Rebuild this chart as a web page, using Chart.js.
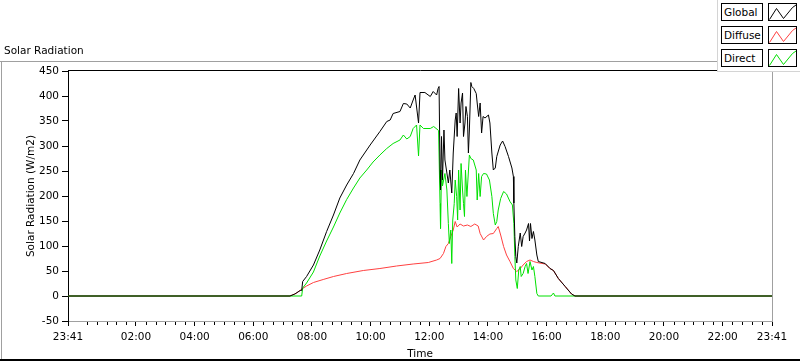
<!DOCTYPE html>
<html><head><meta charset="utf-8">
<script src="https://cdn.jsdelivr.net/npm/chart.js@4.4.1/dist/chart.umd.min.js"></script>
<style>
html,body{margin:0;padding:0;background:#fff;}
body{width:800px;height:361px;position:relative;overflow:hidden;font-family:"DejaVu Sans",sans-serif;color:#000;}
#c{position:absolute;left:0;top:0;}
#title{position:absolute;left:4px;top:43px;font-size:10.5px;line-height:14px;}
#legend{position:absolute;left:717px;top:0;width:83px;height:72px;background:#fff;border-left:1px solid #d4d4d4;border-bottom:1px solid #d4d4d4;box-sizing:border-box;}
.lab{position:absolute;left:3px;width:42px;height:18px;border:1px solid #000;box-sizing:border-box;font-size:10.5px;line-height:16px;padding-left:2px;white-space:nowrap;}
.ico{position:absolute;left:50px;width:29px;height:18px;border:1px solid #000;box-sizing:border-box;}
.ico svg{position:absolute;left:0;top:0;}
</style></head>
<body>
<canvas id="c" width="800" height="361"></canvas>
<div id="title">Solar Radiation</div>
<div id="legend"></div>
<script>
// ---- data (time in minutes after midnight; 23:41 of previous day = -19) ----
const seriesNames = ['Global', 'Diffuse', 'Direct'];
const seriesColors = ['#000000', '#ff4040', '#00e000'];

const xTickValues = [-19, 120, 240, 360, 480, 600, 720, 840, 960, 1080, 1200, 1320, 1421];
const xTickLabels = ['23:41', '02:00', '04:00', '06:00', '08:00', '10:00', '12:00', '14:00', '16:00', '18:00', '20:00', '22:00', '23:41'];

const globalTimes = [-19, 435, 445, 456, 459, 461, 469, 483, 496, 510, 524, 537, 551, 565, 578, 599, 619, 633, 640, 646, 660, 667, 674, 681, 687, 691, 698, 701, 711, 722, 728, 735, 738, 740, 742, 743, 745, 747, 750, 752, 756, 759, 762, 766, 769, 773, 775, 777, 780, 783, 785, 788, 790, 793, 795, 798, 800, 802, 805, 807, 811, 816, 818, 821, 824, 827, 830, 834, 841, 844, 848, 851, 855, 858, 865, 870, 875, 882, 889, 892, 893, 895, 897, 899, 902, 906, 909, 912, 916, 919, 923, 925, 927, 930, 933, 936, 940, 943, 957, 967, 974, 984, 998, 1011, 1018, 1421];
const globalValues = [0, 0, 4, 11, 11, 29, 39, 62, 92, 129, 162, 196, 222, 245, 272, 302, 329, 349, 352, 365, 369, 385, 384, 376, 392, 402, 346, 407, 407, 399, 409, 402, 415, 419, 252, 212, 319, 232, 332, 272, 246, 226, 252, 206, 286, 352, 366, 319, 415, 346, 386, 406, 319, 346, 379, 359, 286, 332, 427, 419, 415, 405, 386, 359, 386, 326, 359, 356, 362, 346, 286, 252, 256, 279, 302, 310, 299, 279, 256, 239, 186, 119, 79, 66, 99, 126, 99, 119, 126, 132, 145, 110, 145, 115, 129, 112, 82, 69, 65, 55, 51, 35, 19, 4, 0, 0];

const diffuseTimes = [-19, 435, 447, 461, 469, 483, 503, 524, 551, 585, 619, 653, 687, 718, 735, 742, 749, 754, 759, 764, 769, 773, 777, 783, 790, 798, 805, 813, 820, 824, 831, 837, 844, 851, 858, 861, 866, 872, 878, 885, 892, 899, 906, 912, 919, 926, 933, 940, 957, 967, 974, 984, 998, 1011, 1018, 1421];
const diffuseValues = [0, 0, 5, 15, 20, 27, 33, 39, 45, 51, 55, 60, 64, 67, 72, 75, 85, 99, 105, 119, 132, 149, 138, 144, 140, 142, 139, 144, 140, 125, 112, 119, 124, 125, 135, 139, 122, 99, 82, 69, 55, 49, 55, 62, 69, 72, 69, 67, 64, 55, 51, 35, 19, 4, 0, 0];

const directTimes = [-19, 459, 461, 469, 483, 496, 510, 524, 537, 551, 565, 578, 592, 605, 619, 633, 646, 660, 667, 674, 681, 687, 694, 698, 701, 708, 722, 729, 739, 742, 743, 745, 747, 752, 756, 759, 761, 764, 766, 768, 771, 773, 776, 778, 780, 783, 785, 788, 790, 792, 794, 797, 799, 802, 805, 810, 816, 818, 821, 824, 827, 831, 837, 843, 848, 851, 855, 858, 861, 866, 872, 878, 885, 890, 893, 895, 897, 900, 903, 906, 908, 912, 916, 919, 922, 926, 930, 933, 936, 940, 943, 969, 974, 977, 1421];
const directValues = [0, 0, 16, 26, 48, 80, 110, 138, 166, 193, 216, 236, 252, 268, 282, 295, 305, 312, 322, 314, 319, 335, 342, 280, 342, 335, 335, 339, 331, 185, 135, 252, 220, 245, 212, 145, 105, 132, 65, 152, 185, 232, 199, 152, 252, 172, 265, 212, 185, 159, 252, 199, 232, 282, 275, 272, 252, 192, 245, 199, 239, 245, 244, 232, 199, 165, 142, 149, 172, 195, 209, 204, 189, 182, 145, 79, 32, 15, 52, 59, 39, 45, 59, 65, 45, 69, 52, 59, 39, 5, 0, 0, 6, 0, 0];

const yTitle = 'Solar Radiation (W/m2)';
const xTitle = 'Time';

// ---- legend (HTML) ----
const zig = '0.5,15.5 7.5,4.5 14.5,14.5 23.5,3.5 27,1';
const legend = document.getElementById('legend');
const rowTops = [3, 26, 49];
seriesNames.forEach((n, i) => {
  const l = document.createElement('div'); l.className = 'lab'; l.style.top = rowTops[i] + 'px'; l.textContent = n;
  const ic = document.createElement('div'); ic.className = 'ico'; ic.style.top = rowTops[i] + 'px';
  ic.innerHTML = '<svg width="27" height="16"><polyline points="' + zig + '" fill="none" stroke="' + seriesColors[i] + '" stroke-width="1"/></svg>';
  legend.appendChild(l); legend.appendChild(ic);
});

const pts = (t, v) => t.map((x, i) => ({x: x, y: v[i]}));
const FONT = {family: 'DejaVu Sans', size: 10.5};

const framePlugin = {
  id: 'frame',
  afterDraw(chart) {
    const {ctx, chartArea: a, scales: {x}} = chart;
    ctx.save();
    ctx.lineWidth = 1;
    ctx.strokeStyle = '#a0a0a0';
    ctx.beginPath();
    ctx.moveTo(0, 61.5); ctx.lineTo(800, 61.5);
    ctx.moveTo(1.5, 61); ctx.lineTo(1.5, 361);
    ctx.stroke();
    ctx.strokeStyle = '#000';
    ctx.beginPath();
    ctx.moveTo(0, 359.5); ctx.lineTo(800, 359.5);
    ctx.moveTo(0, 360.5); ctx.lineTo(800, 360.5);
    ctx.stroke();
    ctx.strokeStyle = '#000';
    ctx.beginPath();
    ctx.moveTo(a.left, Math.round(a.top) - 0.5); ctx.lineTo(a.right + 1, Math.round(a.top) - 0.5);
    ctx.stroke();
    ctx.strokeStyle = '#a0a0a0';
    ctx.beginPath();
    ctx.moveTo(Math.round(a.right) + 0.5, a.top - 1); ctx.lineTo(Math.round(a.right) + 0.5, a.bottom + 1);
    ctx.stroke();
    ctx.strokeStyle = '#000';
    ctx.beginPath();
    for (let m = 0; m <= 1420; m += 20) {
      if (m % 120 === 0) continue;
      const px = Math.round(x.getPixelForValue(m)) + 0.5;
      ctx.moveTo(px, a.bottom + 1); ctx.lineTo(px, a.bottom + 4);
    }
    ctx.stroke();
    ctx.restore();
  }
};

new Chart(document.getElementById('c'), {
  type: 'line',
  data: {
    datasets: [
      {label: seriesNames[0], data: pts(globalTimes, globalValues), borderColor: seriesColors[0]},
      {label: seriesNames[2], data: pts(directTimes, directValues), borderColor: seriesColors[2]},
      {label: seriesNames[1], data: pts(diffuseTimes, diffuseValues), borderColor: seriesColors[1]}
    ]
  },
  options: {
    responsive: false,
    animation: false,
    events: [],
    layout: {padding: {left: 0, right: 28, top: 71, bottom: 0}},
    elements: {line: {borderWidth: 1, tension: 0, fill: false}, point: {radius: 0}},
    plugins: {legend: {display: false}, title: {display: false}, tooltip: {enabled: false}},
    scales: {
      x: {
        type: 'linear', min: -19, max: 1421,
        afterBuildTicks(s) { s.ticks = xTickValues.map(v => ({value: v})); },
        ticks: {autoSkip: false, maxRotation: 0, padding: 5, color: '#000', font: FONT,
          callback: (v, i) => xTickLabels[i]},
        grid: {drawOnChartArea: false, drawTicks: true, tickLength: 5, tickColor: '#000'},
        border: {display: true, color: '#a0a0a0'},
        title: {display: true, text: xTitle, color: '#000', font: FONT, padding: {top: 0, bottom: 0}},
        afterFit(s) { s.height = 40; }
      },
      y: {
        min: -50, max: 450,
        ticks: {stepSize: 50, padding: 3, color: '#000', font: FONT},
        grid: {drawOnChartArea: false, drawTicks: true, tickLength: 6, tickColor: '#000'},
        border: {display: true, color: '#000'},
        title: {display: true, text: yTitle, color: '#000', font: FONT, padding: {top: 25, bottom: 0}},
        afterFit(s) { s.width = 68; }
      }
    }
  },
  plugins: [framePlugin]
});
</script>
</body></html>
